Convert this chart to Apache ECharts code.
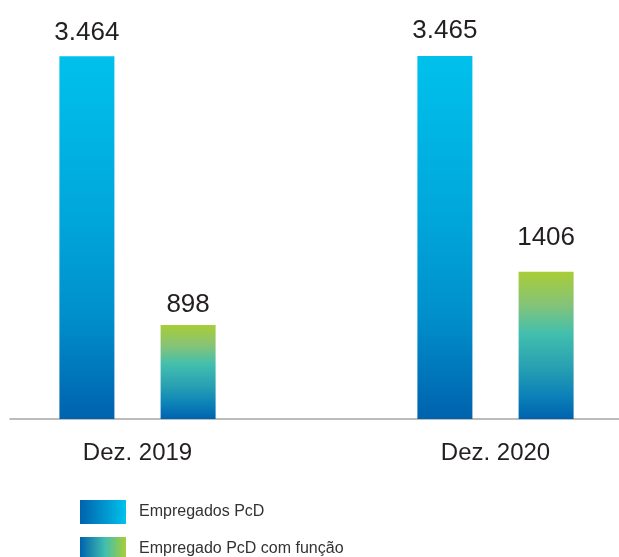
<!DOCTYPE html>
<html>
<head>
<meta charset="utf-8">
<script src="https://cdn.jsdelivr.net/npm/echarts@6/dist/echarts.min.js"></script>
<style>
  html, body { margin: 0; padding: 0; background: #fff; }
  #chart { width: 619px; height: 557px; }
</style>
</head>
<body>
<div id="chart"></div>
<script>
// Employees with disabilities (PcD), December snapshots
const categories = ['Dez. 2019', 'Dez. 2020'];
const seriesNames = ['Empregados PcD', 'Empregado PcD com função'];
const empregadosPcD = [3464, 3465];
const empregadosPcDFuncao = [898, 1406];
// Labels as printed (Portuguese thousands separator on the first series)
const labelsPcD = ['3.464', '3.465'];
const labelsFuncao = ['898', '1406'];

const FONT = '"Liberation Sans", Arial, Helvetica, sans-serif';
const TEXT = '#231f20';

function vGrad(stops) {
  return new echarts.graphic.LinearGradient(0, 0, 0, 1, stops);
}
function hGrad(stops) {
  return new echarts.graphic.LinearGradient(0, 0, 1, 0, stops);
}

const blueStops = [
  { offset: 0, color: '#00c1eb' },
  { offset: 0.45, color: '#00a6da' },
  { offset: 0.72, color: '#008fcb' },
  { offset: 1, color: '#0062ae' }
];
const greenStops = [
  { offset: 0, color: '#a8cd37' },
  { offset: 0.22, color: '#86c377' },
  { offset: 0.42, color: '#42bfae' },
  { offset: 0.65, color: '#28a0b2' },
  { offset: 0.85, color: '#0a80b8' },
  { offset: 1, color: '#0062ae' }
];

// label offsets above each bar, per item
const distPcD = [10, 12];
const distFuncao = [7, 21];

function labelled(values, labels, dists) {
  return values.map((v, i) => ({
    value: v,
    label: { distance: dists[i], formatter: labels[i] }
  }));
}

const legendText = {
  fontSize: 16,
  fontFamily: FONT,
  color: '#333333',
  padding: [0, 0, 0, 8]
};

const chart = echarts.init(document.getElementById('chart'), null, { renderer: 'canvas' });

chart.setOption({
  animation: false,
  backgroundColor: '#ffffff',
  grid: [
    // category ticks sit on the grid edges (boundaryGap false)
    { left: 137.5, right: 123.5, top: 0, bottom: 138 },
    // full-width baseline rule
    { left: 10, right: 0, top: 0, bottom: 138 }
  ],
  xAxis: [
    {
      type: 'category',
      gridIndex: 0,
      boundaryGap: false,
      data: categories,
      axisLine: { show: false },
      axisTick: { show: false },
      axisLabel: {
        margin: 22,
        fontSize: 24,
        fontFamily: FONT,
        color: TEXT
      }
    },
    {
      type: 'value',
      gridIndex: 1,
      min: 0,
      max: 1,
      axisLine: { show: true, lineStyle: { color: '#a7a7a7', width: 1.5 } },
      axisTick: { show: false },
      axisLabel: { show: false },
      splitLine: { show: false }
    }
  ],
  yAxis: [
    { type: 'value', gridIndex: 0, min: 0, max: 4000, show: false },
    { type: 'value', gridIndex: 1, min: 0, max: 1, show: false }
  ],
  legend: [
    {
      left: 75,
      top: 495,
      itemWidth: 46,
      itemHeight: 24,
      icon: 'rect',
      selectedMode: false,
      textStyle: legendText,
      data: [
        { name: seriesNames[0], itemStyle: { color: hGrad([{ offset: 0, color: '#0062ae' }, { offset: 1, color: '#00c1eb' }]) } }
      ]
    },
    {
      left: 75,
      top: 532,
      itemWidth: 46,
      itemHeight: 24,
      icon: 'rect',
      selectedMode: false,
      textStyle: legendText,
      data: [
        { name: seriesNames[1], itemStyle: { color: hGrad([{ offset: 0, color: '#0062ae' }, { offset: 0.55, color: '#42bfae' }, { offset: 1, color: '#a8cd37' }]) } }
      ]
    }
  ],
  series: [
    {
      name: seriesNames[0],
      type: 'bar',
      xAxisIndex: 0,
      yAxisIndex: 0,
      clip: false,
      barWidth: 55,
      barGap: '84%',
      itemStyle: { color: vGrad(blueStops) },
      label: {
        show: true,
        position: 'top',
        fontSize: 26,
        fontFamily: FONT,
        color: TEXT
      },
      data: labelled(empregadosPcD, labelsPcD, distPcD)
    },
    {
      name: seriesNames[1],
      type: 'bar',
      xAxisIndex: 0,
      yAxisIndex: 0,
      clip: false,
      barWidth: 55,
      itemStyle: { color: vGrad(greenStops) },
      label: {
        show: true,
        position: 'top',
        fontSize: 26,
        fontFamily: FONT,
        color: TEXT
      },
      data: labelled(empregadosPcDFuncao, labelsFuncao, distFuncao)
    }
  ]
});
</script>
</body>
</html>
